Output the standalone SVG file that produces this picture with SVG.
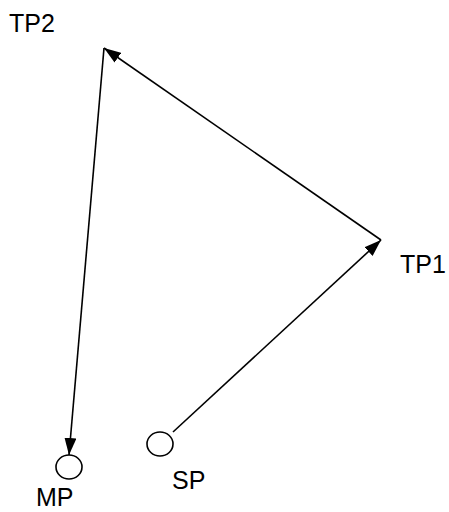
<svg xmlns="http://www.w3.org/2000/svg" width="449" height="512" viewBox="0 0 449 512">
<style>
.lbl{font-family:"Liberation Sans",Arial,sans-serif;font-size:25px;fill:#000}
.edge{stroke:#000;stroke-width:1.6;fill:none}
.pt{fill:#fff;stroke:#000;stroke-width:1.6}
</style>
<defs>
<marker id="ah" markerUnits="userSpaceOnUse" markerWidth="17" markerHeight="12" refX="17" refY="6" orient="auto">
<path d="M0,0 L17,6 L0,12 z" fill="#000"/>
</marker>
</defs>
<rect width="449" height="512" fill="#fff"/>
<g id="connectors">
<line class="edge" x1="173" y1="432" x2="381" y2="240" marker-end="url(#ah)"/>
<line class="edge" x1="381" y1="240" x2="104" y2="48" marker-end="url(#ah)"/>
<line class="edge" x1="104" y1="48" x2="69" y2="455" marker-end="url(#ah)"/>
</g>
<g id="TP2"><text class="lbl" x="9" y="32">TP2</text></g>
<g id="TP1"><text class="lbl" x="400" y="273">TP1</text></g>
<g id="SP"><ellipse class="pt" cx="160" cy="444" rx="13" ry="12"/><text class="lbl" x="172" y="489">SP</text></g>
<g id="MP"><ellipse class="pt" cx="69" cy="467" rx="13" ry="12"/><text class="lbl" x="36" y="506">MP</text></g>
</svg>
